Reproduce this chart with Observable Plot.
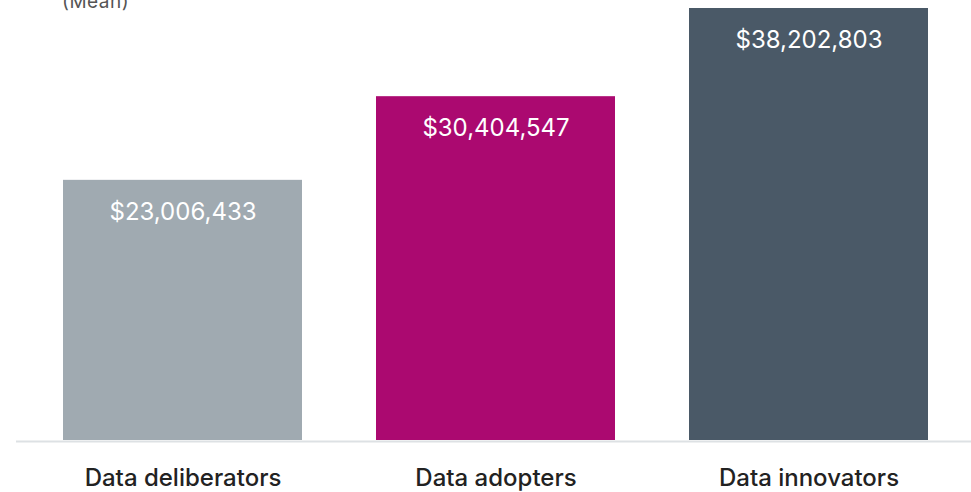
<!DOCTYPE html>
<html>
<head>
<meta charset="utf-8">
<script src="https://cdn.jsdelivr.net/npm/d3@7"></script>
<script src="https://cdn.jsdelivr.net/npm/@observablehq/plot@0.6"></script>
<style>
  html, body { margin: 0; padding: 0; background: #fff; overflow: hidden; }
  #wrap { position: relative; width: 971px; height: 492px; }
  #note { position: absolute; left: 62px; top: -10px; font-family: Inter, "Noto Sans", sans-serif; font-size: 19px; letter-spacing: 0.5px; color: #555; }
</style>
</head>
<body>
<div id="wrap">
  <div id="chart"></div>
  <div id="note">(Mean)</div>
</div>
<script>
const categories = ["Data deliberators", "Data adopters", "Data innovators"];
const values = [23006433, 30404547, 38202803];
const colors = ["#a0aab1", "#ab0970", "#4a5967"];

const data = categories.map((c, i) => ({category: c, value: values[i]}));
const fmt = d => "$" + d3.format(",")(d);

const chart = Plot.plot({
  width: 971,
  height: 492,
  marginLeft: 16,
  marginRight: 0,
  marginTop: 8,
  marginBottom: 52,
  style: {fontFamily: "Inter, 'Noto Sans', sans-serif", background: "#fff"},
  x: {domain: categories, range: [62.5, 928.5], paddingInner: 0.238, paddingOuter: 0, axis: null},
  y: {domain: [0, 38202803], axis: null},
  color: {domain: categories, range: colors},
  marks: [
    Plot.ruleY([0], {stroke: "#dde1e4", strokeWidth: 2, dy: 1}),
    Plot.barY(data, {x: "category", y: "value", fill: "category"}),
    Plot.text(data, {x: "category", y: "value", text: d => fmt(d.value), dy: 32, fill: "#fff", fontSize: 24, letterSpacing: "0.4px"}),
    Plot.text(data, {x: "category", y: 0, text: "category", dy: 38, fill: "#222", fontSize: 24, fontWeight: 500, letterSpacing: "1.6px"})
  ]
});
document.getElementById("chart").appendChild(chart);
</script>
</body>
</html>
